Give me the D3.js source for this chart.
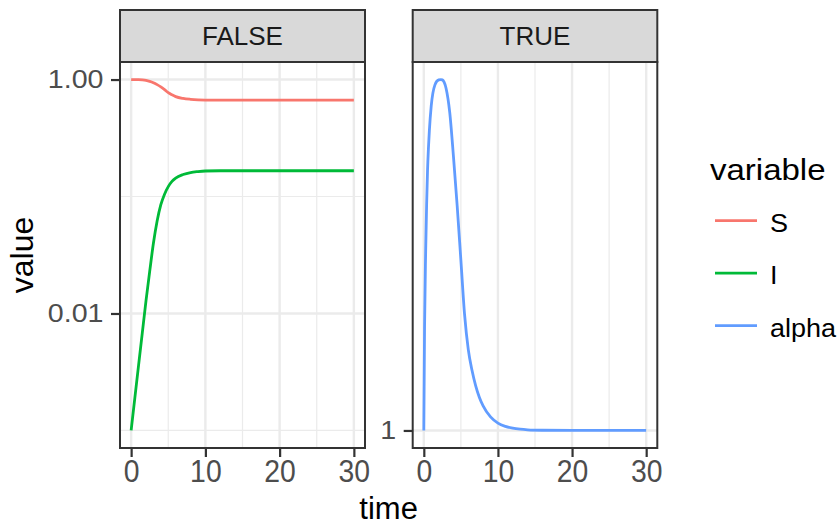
<!DOCTYPE html>
<html>
<head>
<meta charset="utf-8">
<script src="https://cdn.jsdelivr.net/npm/d3@7"></script>
<style>
  body { margin: 0; background: #fff; }
  svg { display: block; font-family: "Liberation Sans", Arial, Helvetica, sans-serif; }
</style>
</head>
<body>
<svg id="chart" width="840" height="526"></svg>
<script>
// --- data ---
const timeFalse = [0, 0.5, 1, 1.5, 2, 2.5, 3, 3.5, 4, 4.5, 5, 5.5, 6, 7, 8, 9, 10, 12, 15, 20, 25, 30];
const sValues = [1.0, 0.999, 0.997, 0.992, 0.983, 0.966, 0.94, 0.905, 0.865, 0.82, 0.772, 0.74, 0.715, 0.69, 0.678, 0.671, 0.668, 0.666, 0.666, 0.666, 0.666, 0.666];
const iValues = [0.001, 0.0019, 0.0036, 0.0068, 0.0128, 0.0229, 0.0398, 0.0617, 0.0851, 0.1047, 0.1216, 0.1349, 0.1439, 0.1542, 0.1603, 0.1633, 0.1652, 0.166, 0.166, 0.166, 0.166, 0.166];

const timeTrue = [0, 0.1, 0.25, 0.375, 0.5, 0.625, 0.75, 1, 1.5, 2, 2.3, 2.5, 3, 3.5, 4, 4.5, 5, 5.5, 6, 6.5, 7, 7.5, 8, 9, 10, 11, 12, 13, 14, 16, 20, 25, 30];
const alphaValues = [1.0, 1.19, 1.35, 1.457, 1.545, 1.605, 1.653, 1.722, 1.784, 1.799, 1.8, 1.799, 1.774, 1.703, 1.582, 1.457, 1.33, 1.214, 1.145, 1.106, 1.0776, 1.0568, 1.042, 1.0229, 1.0124, 1.0069, 1.0038, 1.0021, 1.0011, 1.00035, 1.0, 1.0, 1.0];

const facets = ["FALSE", "TRUE"];
const variables = ["S", "I", "alpha"];
const colors = ["#F8766D", "#00BA38", "#619CFF"];

const xTicks = [0, 10, 20, 30];
const xMinor = [5, 15, 25];
const yTicksFalse = [1, 0.01];
const yLabelsFalse = ["1.00", "0.01"];
const yMinorFalse = [0.1, 0.001];
const yTicksTrue = [1];
const yLabelsTrue = ["1"];

// --- layout ---
const svg = d3.select("#chart");
const stripTop = 10, panelTop = 62, panelBottom = 448;
const panelX = [[120, 365], [412.7, 657.3]];
const ink = "#333333", tickText = "#4D4D4D", gridCol = "#EBEBEB";

function expand([lo, hi], k = 0.05) {
    const d = (hi - lo) * k;
    return [lo - d, hi + d];
}

function logScale(values) {
    const ext = expand(d3.extent(values.map(Math.log10)));
    return d3.scaleLog().domain(ext.map(v => Math.pow(10, v))).range([panelBottom, panelTop]);
}

const panels = [
    {
        facet: facets[0],
        series: [
            { name: variables[0], color: colors[0], t: timeFalse, v: sValues },
            { name: variables[1], color: colors[1], t: timeFalse, v: iValues }
        ],
        y: logScale(sValues.concat(iValues)),
        ticks: yTicksFalse, labels: yLabelsFalse, minor: yMinorFalse
    },
    {
        facet: facets[1],
        series: [{ name: variables[2], color: colors[2], t: timeTrue, v: alphaValues }],
        y: logScale(alphaValues),
        ticks: yTicksTrue, labels: yLabelsTrue, minor: []
    }
];

panels.forEach((p, i) => {
    const [x0, x1] = panelX[i];
    const x = d3.scaleLinear().domain(expand(d3.extent(timeFalse))).range([x0, x1]);
    const y = p.y;
    const g = svg.append("g");

    g.append("rect").attr("x", x0).attr("y", panelTop)
        .attr("width", x1 - x0).attr("height", panelBottom - panelTop).attr("fill", "#fff");

    // minor grid
    g.selectAll(".vminor").data(xMinor).join("line")
        .attr("x1", d => x(d)).attr("x2", d => x(d))
        .attr("y1", panelTop).attr("y2", panelBottom)
        .attr("stroke", gridCol).attr("stroke-width", 1.2);
    g.selectAll(".hminor").data(p.minor).join("line")
        .attr("x1", x0).attr("x2", x1)
        .attr("y1", d => y(d)).attr("y2", d => y(d))
        .attr("stroke", gridCol).attr("stroke-width", 1.2);
    // major grid
    g.selectAll(".vmajor").data(xTicks).join("line")
        .attr("x1", d => x(d)).attr("x2", d => x(d))
        .attr("y1", panelTop).attr("y2", panelBottom)
        .attr("stroke", gridCol).attr("stroke-width", 2.4);
    g.selectAll(".hmajor").data(p.ticks).join("line")
        .attr("x1", x0).attr("x2", x1)
        .attr("y1", d => y(d)).attr("y2", d => y(d))
        .attr("stroke", gridCol).attr("stroke-width", 2.4);

    // lines
    const line = d3.line().curve(d3.curveMonotoneX);
    p.series.forEach(s => {
        g.append("path")
            .attr("d", line(s.t.map((t, k) => [x(t), y(s.v[k])])))
            .attr("fill", "none")
            .attr("stroke", s.color)
            .attr("stroke-width", 2.8)
            .attr("stroke-linejoin", "round");
    });

    // border
    g.append("rect").attr("x", x0).attr("y", panelTop)
        .attr("width", x1 - x0).attr("height", panelBottom - panelTop)
        .attr("fill", "none").attr("stroke", ink).attr("stroke-width", 2);

    // strip
    g.append("rect").attr("x", x0).attr("y", stripTop)
        .attr("width", x1 - x0).attr("height", panelTop - stripTop)
        .attr("fill", "#D9D9D9").attr("stroke", ink).attr("stroke-width", 2);
    g.append("text")
        .attr("transform", `translate(${(x0 + x1) / 2},${(stripTop + panelTop) / 2 + 9.3})`)
        .attr("text-anchor", "middle")
        .style("font-size", "26px")
        .attr("fill", "#1A1A1A")
        .text(p.facet);

    // y axis
    const yAx = g.append("g").attr("transform", `translate(${x0},0)`)
        .call(d3.axisLeft(y).tickValues(p.ticks).tickFormat((d, k) => p.labels[k]).tickSize(9).tickPadding(7.5));
    yAx.select(".domain").remove();
    yAx.selectAll(".tick line").attr("stroke", ink).attr("stroke-width", 2.2);
    yAx.selectAll(".tick text")
        .attr("fill", tickText).style("font-size", "26px").attr("font-family", null)
        .attr("x", -16.5 / 1.1).attr("transform", "scale(1.1,1)");

    // x axis
    const xAx = g.append("g").attr("transform", `translate(0,${panelBottom})`)
        .call(d3.axisBottom(x).tickValues(xTicks).tickSize(9).tickPadding(3));
    xAx.select(".domain").remove();
    xAx.selectAll(".tick line").attr("stroke", ink).attr("stroke-width", 2.2);
    xAx.selectAll(".tick text")
        .attr("fill", tickText).style("font-size", "31.5px").attr("font-family", null)
        .attr("transform", "scale(0.9,1)");
});

// axis titles
svg.append("text")
    .attr("transform", `translate(${(panelX[0][0] + panelX[1][1]) / 2},518.5)`)
    .attr("text-anchor", "middle").style("font-size", "31px").text("time");
svg.append("text")
    .attr("transform", `translate(33,${(panelTop + panelBottom) / 2}) rotate(-90)`)
    .attr("text-anchor", "middle").style("font-size", "32px").text("value");

// legend
const legend = svg.append("g").attr("transform", "translate(710,0)");
legend.append("text")
    .attr("transform", "translate(0,180) scale(1.1,1)")
    .style("font-size", "30px").text("variable");
variables.forEach((v, k) => {
    const ky = 220.7 + k * 52.5;
    legend.append("line")
        .attr("x1", 5).attr("x2", 47).attr("y1", ky).attr("y2", ky)
        .attr("stroke", colors[k]).attr("stroke-width", 2.8);
    legend.append("text")
        .attr("transform", `translate(60,${ky + 11}) scale(1.08,1)`)
        .style("font-size", "25px").text(v);
});
</script>
</body>
</html>
